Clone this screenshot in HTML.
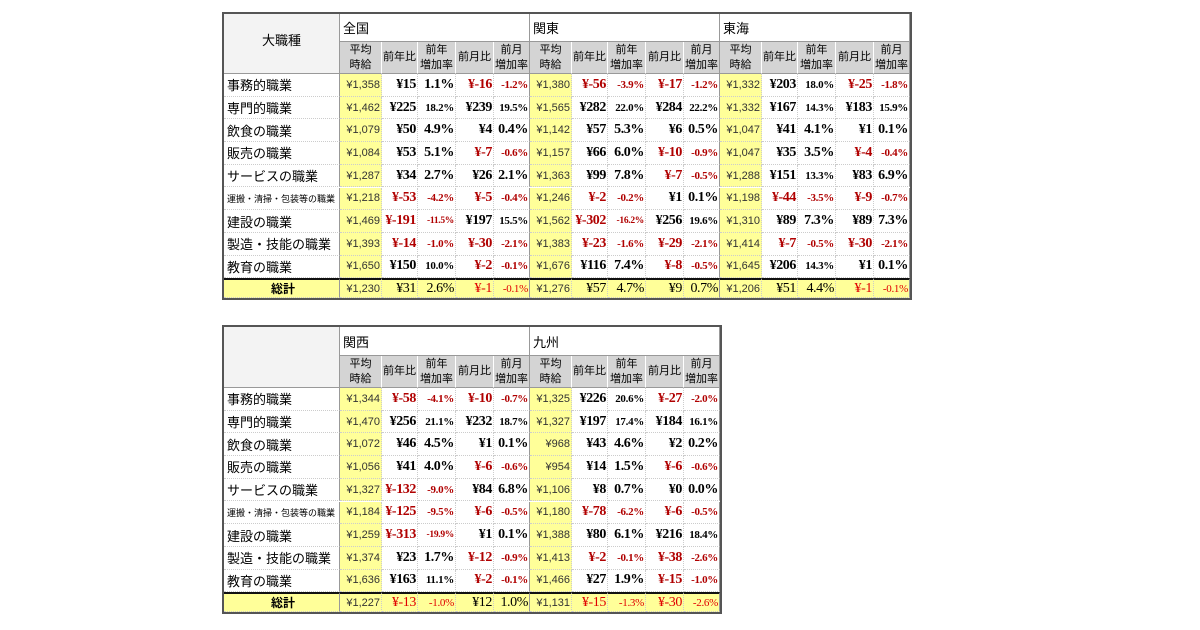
<!DOCTYPE html>
<html><head><meta charset="utf-8">
<style>
body{margin:0;width:1200px;height:630px;background:#fff;position:relative;overflow:hidden;font-family:"Liberation Sans","Noto Sans CJK JP",sans-serif}
.c{position:absolute;box-sizing:border-box;display:flex;align-items:center;white-space:nowrap;overflow:hidden}
.tb{position:absolute;border:2px solid #555;box-sizing:content-box}
</style></head><body>
<script>
const labels=["事務的職業","専門的職業","飲食の職業","販売の職業","サービスの職業","運搬・清掃・包装等の職業","建設の職業","製造・技能の職業","教育の職業","総計"];
const regions1=["全国","関東","東海"];
const regions2=["関西","九州"];
const subHeads=["平均<br>時給","前年比","前年<br>増加率","前月比","前月<br>増加率"];
const data1=[
["¥1,358","¥15","1.1%","¥-16","-1.2%","¥1,380","¥-56","-3.9%","¥-17","-1.2%","¥1,332","¥203","18.0%","¥-25","-1.8%"],
["¥1,462","¥225","18.2%","¥239","19.5%","¥1,565","¥282","22.0%","¥284","22.2%","¥1,332","¥167","14.3%","¥183","15.9%"],
["¥1,079","¥50","4.9%","¥4","0.4%","¥1,142","¥57","5.3%","¥6","0.5%","¥1,047","¥41","4.1%","¥1","0.1%"],
["¥1,084","¥53","5.1%","¥-7","-0.6%","¥1,157","¥66","6.0%","¥-10","-0.9%","¥1,047","¥35","3.5%","¥-4","-0.4%"],
["¥1,287","¥34","2.7%","¥26","2.1%","¥1,363","¥99","7.8%","¥-7","-0.5%","¥1,288","¥151","13.3%","¥83","6.9%"],
["¥1,218","¥-53","-4.2%","¥-5","-0.4%","¥1,246","¥-2","-0.2%","¥1","0.1%","¥1,198","¥-44","-3.5%","¥-9","-0.7%"],
["¥1,469","¥-191","-11.5%","¥197","15.5%","¥1,562","¥-302","-16.2%","¥256","19.6%","¥1,310","¥89","7.3%","¥89","7.3%"],
["¥1,393","¥-14","-1.0%","¥-30","-2.1%","¥1,383","¥-23","-1.6%","¥-29","-2.1%","¥1,414","¥-7","-0.5%","¥-30","-2.1%"],
["¥1,650","¥150","10.0%","¥-2","-0.1%","¥1,676","¥116","7.4%","¥-8","-0.5%","¥1,645","¥206","14.3%","¥1","0.1%"],
["¥1,230","¥31","2.6%","¥-1","-0.1%","¥1,276","¥57","4.7%","¥9","0.7%","¥1,206","¥51","4.4%","¥-1","-0.1%"]];
const data2=[
["¥1,344","¥-58","-4.1%","¥-10","-0.7%","¥1,325","¥226","20.6%","¥-27","-2.0%"],
["¥1,470","¥256","21.1%","¥232","18.7%","¥1,327","¥197","17.4%","¥184","16.1%"],
["¥1,072","¥46","4.5%","¥1","0.1%","¥968","¥43","4.6%","¥2","0.2%"],
["¥1,056","¥41","4.0%","¥-6","-0.6%","¥954","¥14","1.5%","¥-6","-0.6%"],
["¥1,327","¥-132","-9.0%","¥84","6.8%","¥1,106","¥8","0.7%","¥0","0.0%"],
["¥1,184","¥-125","-9.5%","¥-6","-0.5%","¥1,180","¥-78","-6.2%","¥-6","-0.5%"],
["¥1,259","¥-313","-19.9%","¥1","0.1%","¥1,388","¥80","6.1%","¥216","18.4%"],
["¥1,374","¥23","1.7%","¥-12","-0.9%","¥1,413","¥-2","-0.1%","¥-38","-2.6%"],
["¥1,636","¥163","11.1%","¥-2","-0.1%","¥1,466","¥27","1.9%","¥-15","-1.0%"],
["¥1,227","¥-13","-1.0%","¥12","1.0%","¥1,131","¥-15","-1.3%","¥-30","-2.6%"]];

const colW=[42,36,38,38,36], labW=116;
function cell(x,y,w,h,html,css,name){
  const d=document.createElement('div');
  d.className='c';
  d.style.cssText=`left:${x}px;top:${y}px;width:${w}px;height:${h}px;`+css;
  d.innerHTML=html;
  
  
  document.body.appendChild(d);
}
function drawTable(x0,y0,regions,data,rowH,h1,h2,tid){
  const W=labW+190*regions.length;
  const H=h1+h2+rowH*9+20;
  const t=document.createElement('div');
  t.className='tb';
  t.style.cssText=`left:${x0-2}px;top:${y0-2}px;width:${W}px;height:${H}px;`;
  
  
  document.body.appendChild(t);
  cell(x0,y0,labW,h1+h2,regions.length===3?"大職種":"","justify-content:center;background:#f3f3f3;border-right:1px solid #999;border-bottom:1px solid #999;font-size:13px;padding-bottom:8px;","header-category");
  regions.forEach((r,ri)=>{
    const bx=x0+labW+ri*190;
    cell(bx,y0,190,h1,r,"background:#fff;border-right:1px solid #999;border-bottom:1px solid #999;font-size:13px;padding-left:3px;","region-header");
    let cx=bx;
    subHeads.forEach((s,si)=>{
      cell(cx,y0+h1,colW[si],h2,s,"background:#d4d4d4;justify-content:center;text-align:center;font-size:11px;line-height:15px;border-right:1px solid "+(si===4?"#999":"#fff")+";border-bottom:1px solid #999;","column-header");
      cx+=colW[si];
    });
  });
  data.forEach((row,i)=>{
    const tot=i===9;
    const y=y0+h1+h2+i*rowH;
    const h=tot?20:rowH;
    const bt=tot?"border-top:2px solid #111;":"";
    const bg=tot?"background:#ffff99;":"";
    const lab=labels[i];
    const fs=tot?"justify-content:center;font-weight:bold;font-size:12px;":(lab.length>10?"font-size:9px;":"font-size:13px;");
    cell(x0,y,labW,h,lab,bg+bt+fs+"padding-left:3px;border-right:1px solid #999;border-bottom:1px dotted #ccc;","row-label");
    let cx=x0+labW;
    row.forEach((v,j)=>{
      const k=j%5, w=colW[k];
      const neg=v.indexOf('-')>=0;
      let css="justify-content:flex-end;padding-right:1px;border-bottom:1px dotted #ccc;border-right:1px "+(k===4?"solid #999":"dotted #ccc")+";"+bt;
      if(k===0){css+="background:#ffff99;font-size:11px;color:#333;";}
      else{
        css+=bg;
        css+='font-family:"Liberation Serif","Noto Serif CJK SC",serif;';
        const pct=(k===2||k===4);
        const small=pct&&v.length>=5;
        css+="font-size:"+(small?(v.length>=6?"9.5px":"11px"):"14px")+";";
        css+=tot?"font-weight:normal;":"font-weight:bold;";
        css+="color:"+(neg?(tot?"#e00000":"#b00000"):"#000")+";";
        css+=small?"letter-spacing:-0.3px;":"letter-spacing:-0.4px;";
      }
      cell(cx,y,w,h,v,css,"value-cell");
      cx+=w;
    });
  });
}
drawTable(224,14,regions1,data1,22.7,28,32,"table-top");
drawTable(224,327,regions2,data2,22.7,29,32,"table-bottom");
</script>
</body></html>
